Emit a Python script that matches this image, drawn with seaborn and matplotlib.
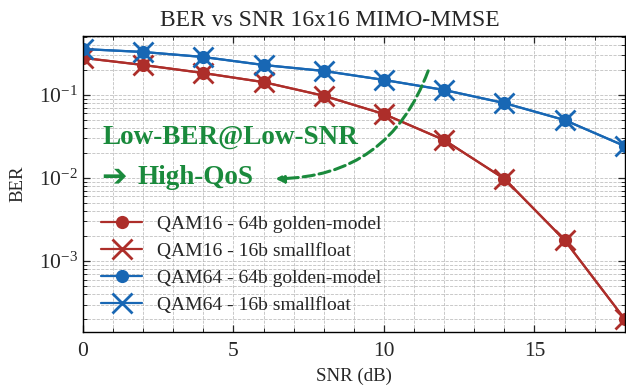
import numpy as np
import pandas as pd
import matplotlib
matplotlib.use("Agg")
import matplotlib.pyplot as plt
from matplotlib.ticker import MultipleLocator, LogLocator, NullFormatter
import seaborn as sns

# SNR points (dB)
SNR = [0, 2, 4, 6, 8, 10, 12, 14, 16, 18]

# BER (golden model and smallfloat overlap)
QAM16_GOLDEN = [0.28, 0.23, 0.184, 0.143, 0.098, 0.059, 0.0287, 0.0098, 0.00179, 0.0002]
QAM16_SMALL = [0.28, 0.23, 0.184, 0.143, 0.098, 0.059, 0.0287, 0.0098, 0.00179, 0.0002]
QAM64_GOLDEN = [0.358, 0.33, 0.287, 0.23, 0.195, 0.152, 0.115, 0.080, 0.050, 0.0243]
QAM64_SMALL = [0.358, 0.33, 0.287, 0.23, 0.195, 0.152, 0.115, 0.080, 0.050, 0.0243]

RED = "#ad2e2a"
BLUE = "#1867b4"
GREEN = "#1a8a3c"

sns.set_theme(style="ticks")
plt.rcParams["font.family"] = ["Liberation Serif", "DejaVu Serif"]
plt.rcParams["mathtext.fontset"] = "stix"

fig = plt.figure(figsize=(6.26, 3.9), dpi=100)
ax = fig.add_axes([0.1326, 0.1487, 0.8654, 0.759])

series = [
    (QAM16_GOLDEN, RED, "o", 9.5, "QAM16 - 64b golden-model"),
    (QAM16_SMALL, RED, "x", 15, "QAM16 - 16b smallfloat"),
    (QAM64_GOLDEN, BLUE, "o", 9.5, "QAM64 - 64b golden-model"),
    (QAM64_SMALL, BLUE, "x", 15, "QAM64 - 16b smallfloat"),
]
for vals, color, marker, ms, label in series:
    df = pd.DataFrame({"snr": SNR, "ber": vals})
    sns.lineplot(data=df, x="snr", y="ber", ax=ax, color=color, marker=marker,
                 markersize=ms, markeredgewidth=2 if marker == "x" else 0,
                 markeredgecolor=color, linewidth=1.6, label=label)

ax.set_yscale("log")
ax.set_xlim(0, 18)
ax.set_ylim(1.4e-4, 0.514)
ax.xaxis.set_major_locator(MultipleLocator(5))
ax.xaxis.set_minor_locator(MultipleLocator(1))
ax.yaxis.set_major_locator(LogLocator(base=10, numticks=10))
ax.yaxis.set_minor_locator(LogLocator(base=10, subs=np.arange(2, 10), numticks=20))
ax.yaxis.set_minor_formatter(NullFormatter())

ax.grid(True, which="both", linestyle="--", color="#b0b0b0", linewidth=0.6, alpha=0.8)
ax.tick_params(which="both", direction="in", top=True, right=True, labelsize=15.5)
ax.tick_params(axis="x", which="major", pad=7)
ax.tick_params(which="major", length=5, width=0.9)
ax.tick_params(which="minor", length=3, width=0.7)
for sp in ax.spines.values():
    sp.set_color("black")
    sp.set_linewidth(1.0)

ax.set_xlabel("SNR (dB)", fontsize=13.6, labelpad=5)
ax.set_ylabel("BER", fontsize=13.6, labelpad=9)
ax.set_title("BER vs SNR 16x16 MIMO-MMSE", fontsize=17, pad=7, x=0.456)

ax.legend(loc="lower left", frameon=False, fontsize=14, handlelength=2.1,
          bbox_to_anchor=(0.0, 0.0), borderaxespad=0.55, labelspacing=0.48,
          handletextpad=0.75)

ax.text(0.65, 0.031, "Low-BER@Low-SNR", color=GREEN, fontsize=19.5,
        fontweight="bold", va="center", ha="left")
ax.text(0.6, 0.0102, "\u2794", color=GREEN, fontsize=22,
        va="center", ha="left", family=["DejaVu Sans"])
ax.text(1.82, 0.0102, "High-QoS", color=GREEN, fontsize=19.5,
        fontweight="bold", va="center", ha="left")
ax.annotate("", xy=(6.3, 0.0098), xytext=(11.5, 0.21),
            arrowprops=dict(arrowstyle="-|>", color=GREEN, lw=2.2, linestyle="--",
                            connectionstyle="arc3,rad=-0.35", mutation_scale=12))

fig.savefig("out.png", dpi=100)
